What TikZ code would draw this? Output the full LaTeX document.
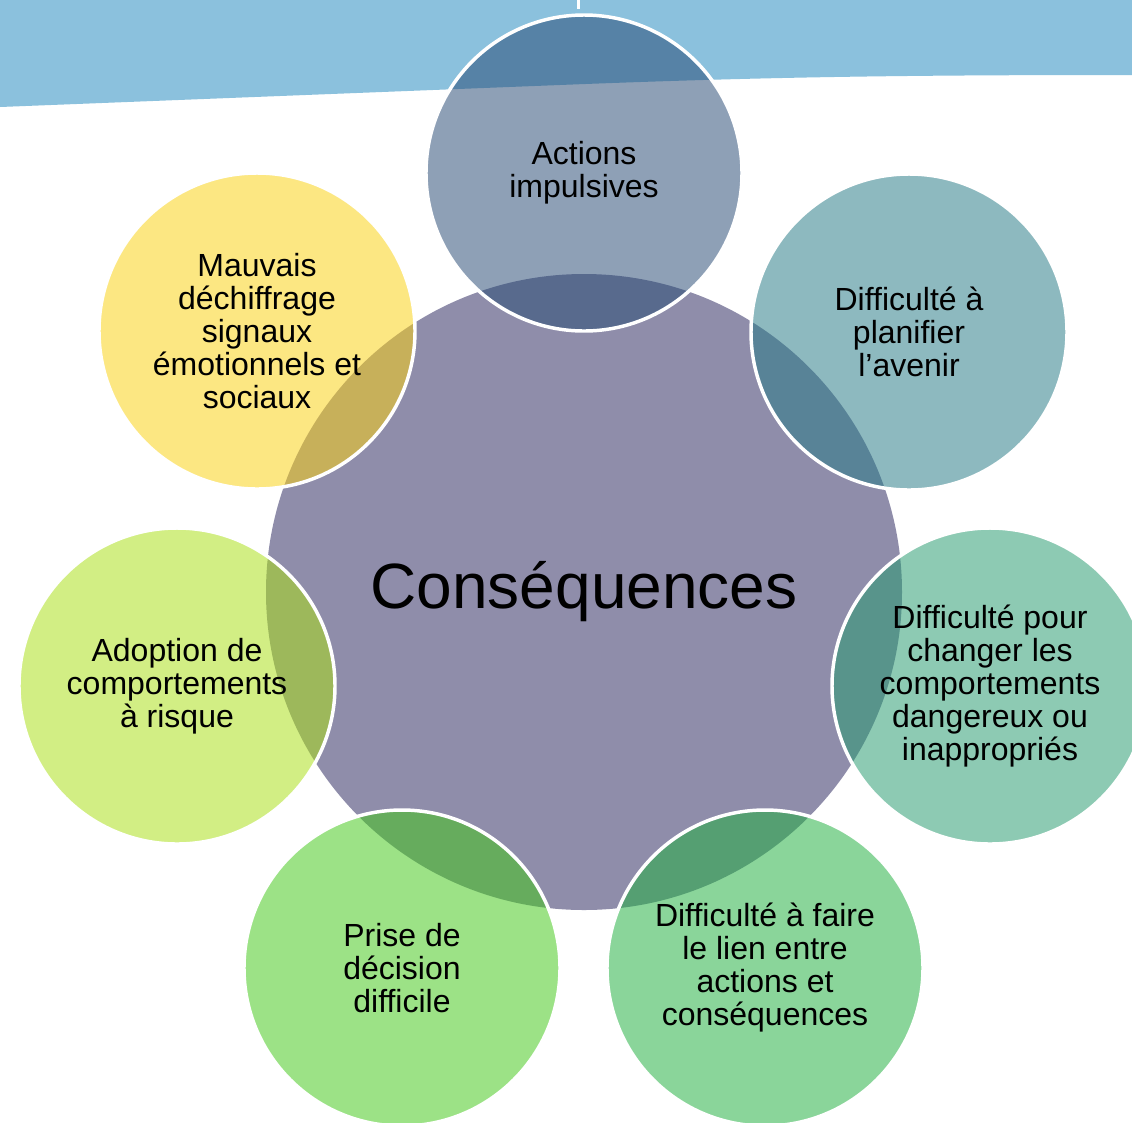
\documentclass[tikz,border=0pt]{standalone}
\usepackage{fontspec}
\setmainfont{Liberation Sans}
\definecolor{bandblue}{RGB}{139,193,221}
\definecolor{centerc}{RGB}{143,141,170}
\definecolor{cA}{RGB}{39,74,116}
\definecolor{cB}{RGB}{38,122,134}
\definecolor{cC}{RGB}{38,155,111}
\definecolor{cD}{RGB}{32,176,63}
\definecolor{cE}{RGB}{66,201,24}
\definecolor{cF}{RGB}{170,224,20}
\definecolor{cG}{RGB}{251,209,17}
\begin{document}
\begin{tikzpicture}[x=0.75pt,y=-0.75pt,
  sat/.style={circle, minimum size=237pt, inner sep=0pt, draw=white, line width=2.6pt,
    fill opacity=0.52, draw opacity=1, text opacity=1, align=center, text=black,
    font=\fontsize{24}{24.75}\selectfont},
  hub/.style={circle, minimum size=477pt, inner sep=0pt, fill=centerc},
  hubtext/.style={font=\fontsize{48}{52}\selectfont, anchor=base, text=black}]
\clip (0,0) rectangle (1132,1122);
\fill[white] (0,0) rectangle (1132,1122);
\fill[bandblue] (0,0) -- (1132,0) -- (1132,75) .. controls (900,75) and (760,77) .. (560,85) -- (0,107) -- cycle;
\fill[white] (576.5,0) rectangle (579.5,9);
\node[hub] (c) at (584,592) {};
\node[hubtext] (ct) at (584,608) {Conséquences};
\node[sat, fill=cA] (s1) at (584,173) {Actions\\impulsives};
\node[sat, fill=cB] (s2) at (909,332) {Difficulté à\\planifier\\l’avenir};
\node[sat, fill=cC] (s3) at (990,686) {Difficulté pour\\changer les\\comportements\\dangereux ou\\inappropriés};
\node[sat, fill=cD] (s4) at (765,968) {Difficulté à faire\\le lien entre\\actions et\\conséquences};
\node[sat, fill=cE] (s5) at (402,968) {Prise de\\décision\\difficile};
\node[sat, fill=cF] (s6) at (177,686) {Adoption de\\comportements\\à risque};
\node[sat, fill=cG] (s7) at (257,331) {Mauvais\\déchiffrage\\signaux\\émotionnels et\\sociaux};
\end{tikzpicture}
\end{document}
